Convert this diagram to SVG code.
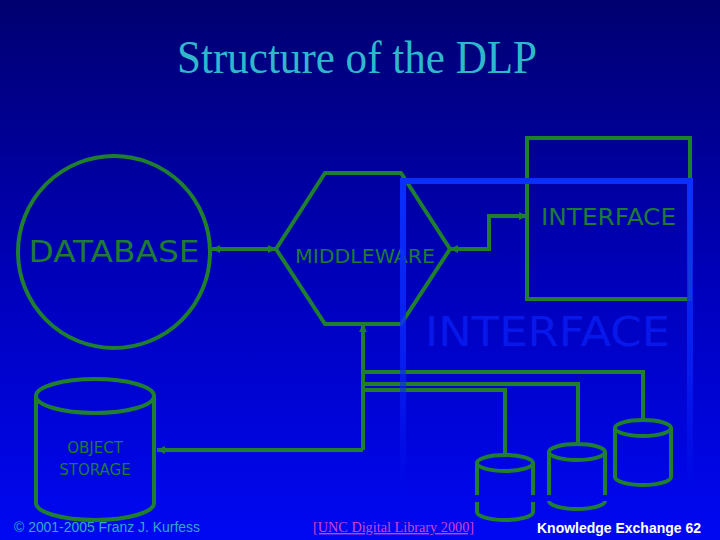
<svg xmlns="http://www.w3.org/2000/svg" width="720" height="540" viewBox="0 0 720 540">
<defs>
<linearGradient id="bg" x1="0" y1="0" x2="0" y2="1">
<stop offset="0" stop-color="#000070"/>
<stop offset="0.5" stop-color="#0000b8"/>
<stop offset="1" stop-color="#0008f2"/>
</linearGradient>
<linearGradient id="ghostStroke" gradientUnits="userSpaceOnUse" x1="0" y1="180" x2="0" y2="490">
<stop offset="0" stop-color="#0a30ff" stop-opacity="1"/>
<stop offset="0.6" stop-color="#0a28ff" stop-opacity="0.7"/>
<stop offset="1" stop-color="#0a20ff" stop-opacity="0"/>
</linearGradient>
<marker id="ah" viewBox="0 0 10 10" refX="10" refY="5" markerWidth="9" markerHeight="8" markerUnits="userSpaceOnUse" orient="auto-start-reverse">
<path d="M0,0 L10,5 L0,10 z" fill="#1f7f2f"/>
</marker>
<style>
.g{fill:none;stroke:#1f7f2f;stroke-width:4;stroke-linejoin:miter}
.gt{font-family:"DejaVu Sans",Verdana,sans-serif;fill:#1f7a33}
.c{fill:none;stroke:#1f7f2f;stroke-width:4}
.ghost{fill:none;stroke:url(#ghostStroke);stroke-width:6}
</style>
</defs>
<rect x="0" y="0" width="720" height="540" fill="url(#bg)"/>
<g id="title">
<text x="357" y="73" text-anchor="middle" font-family="'Liberation Serif','Times New Roman',serif" font-size="46" fill="#2fb8cc" textLength="360" lengthAdjust="spacingAndGlyphs">Structure of the DLP</text>
</g>
<g id="connectors">
<path class="g" d="M212,249 H276" marker-start="url(#ah)" marker-end="url(#ah)"/>
<path class="g" d="M450,249 H489 V216 H527" marker-start="url(#ah)" marker-end="url(#ah)"/>
<path class="g" d="M363,450 V324" marker-end="url(#ah)"/>
<path class="g" d="M363,450 H157" marker-end="url(#ah)"/>
<path class="g" d="M363,372 H643 V421"/>
<path class="g" d="M363,384 H578 V444"/>
<path class="g" d="M363,390 H505 V455"/>
</g>
<g id="database">
<circle class="g" cx="114" cy="252" r="96"/>
<text class="gt" x="114" y="262" text-anchor="middle" font-size="31" textLength="171" lengthAdjust="spacingAndGlyphs">DATABASE</text>
</g>
<g id="middleware">
<polygon class="g" points="276,249 325,173 401,173 450,249 401,324 325,324"/>
<text class="gt" x="295" y="263" font-size="19" textLength="140" lengthAdjust="spacingAndGlyphs">MIDDLEWARE</text>
</g>
<g id="interface">
<rect class="g" x="527" y="138" width="163" height="161"/>
<text class="gt" x="541" y="225" font-size="23" textLength="135" lengthAdjust="spacingAndGlyphs">INTERFACE</text>
</g>
<g id="object-storage">
<ellipse class="c" cx="95" cy="396" rx="59" ry="17" stroke-width="5"/>
<path class="c" stroke-width="5" d="M36,396 V503 A59,17 0 0 0 154,503 V396"/>
<text class="gt" x="95" y="453" text-anchor="middle" font-size="15" fill="#1d6e3c">OBJECT</text>
<text class="gt" x="95" y="475" text-anchor="middle" font-size="15" fill="#1d6e3c">STORAGE</text>
</g>
<g id="disk1">
<ellipse class="c" cx="505" cy="463" rx="28" ry="8"/>
<path class="c" d="M477,463 V495 M533,463 V495 M477,502 V512 A28,8 0 0 0 533,512 V502"/>
</g>
<g id="disk2">
<ellipse class="c" cx="577" cy="452" rx="28" ry="8"/>
<path class="c" d="M549,452 V495 M605,452 V495 M549,501 A28,8 0 0 0 605,501"/>
</g>
<g id="disk3">
<ellipse class="c" cx="643" cy="428" rx="28" ry="8"/>
<path class="c" d="M615,428 V477 A28,8 0 0 0 671,477 V428"/>
</g>
<g id="interface-ghost">
<path class="ghost" d="M403,545 V181 H690 V545"/>
<text x="425" y="346" font-family="'DejaVu Sans',Verdana,sans-serif" font-size="40" fill="#0818ea" textLength="245" lengthAdjust="spacingAndGlyphs">INTERFACE</text>
</g>
<g id="footer">
<text x="14" y="532" font-family="'Liberation Sans',Arial,sans-serif" font-size="14" fill="#2eaac4" textLength="186" lengthAdjust="spacingAndGlyphs">© 2001-2005 Franz J. Kurfess</text>
<text x="313" y="532" font-family="'Liberation Serif','Times New Roman',serif" font-size="14" fill="#cc44cc" text-decoration="underline" textLength="161" lengthAdjust="spacingAndGlyphs">[UNC Digital Library  2000]</text>
<text x="537" y="533" font-family="'Liberation Sans',Arial,sans-serif" font-size="15" font-weight="bold" fill="#ffffff" textLength="164" lengthAdjust="spacingAndGlyphs">Knowledge Exchange 62</text>
</g>
</svg>
